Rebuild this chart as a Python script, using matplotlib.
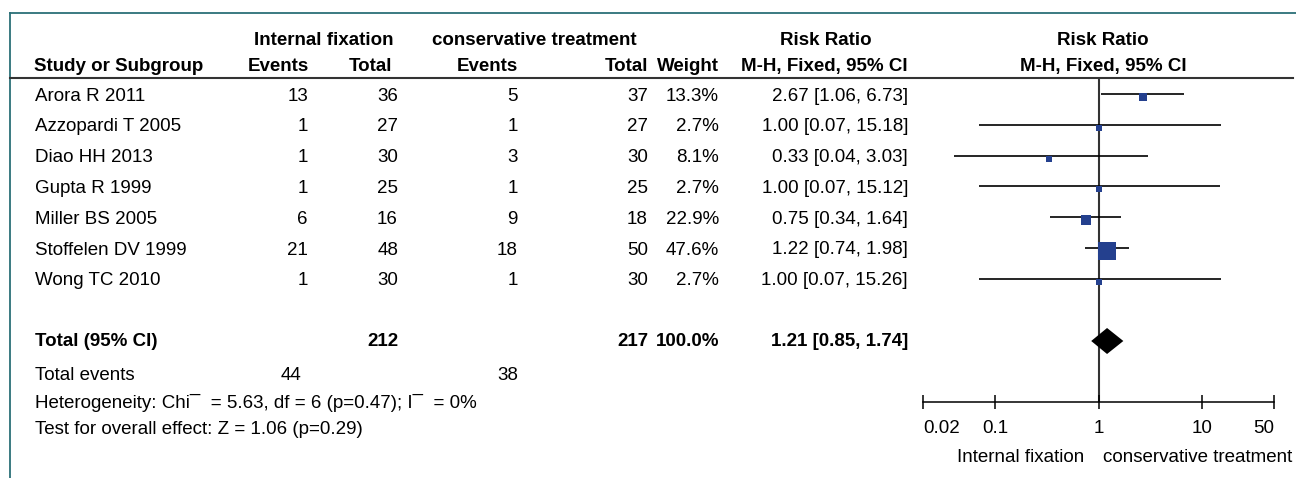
import numpy as np
import matplotlib.pyplot as plt
from matplotlib.ticker import NullLocator

plt.rcParams['font.family'] = ['Liberation Sans', 'DejaVu Sans']
plt.rcParams['font.size'] = 13.5

# data ---------------------------------------------------------
studies = ['Arora R 2011', 'Azzopardi T 2005', 'Diao HH 2013', 'Gupta R 1999',
           'Miller BS 2005', 'Stoffelen DV 1999', 'Wong TC 2010']
events_if = [13, 1, 1, 1, 6, 21, 1]
total_if = [36, 27, 30, 25, 16, 48, 30]
events_ct = [5, 1, 3, 1, 9, 18, 1]
total_ct = [37, 27, 30, 25, 18, 50, 30]
weights = [13.3, 2.7, 8.1, 2.7, 22.9, 47.6, 2.7]
rr = [2.67, 1.00, 0.33, 1.00, 0.75, 1.22, 1.00]
ci_low = [1.06, 0.07, 0.04, 0.07, 0.34, 0.74, 0.07]
ci_high = [6.73, 15.18, 3.03, 15.12, 1.64, 1.98, 15.26]

pooled_rr = 1.21
pooled_low = 0.85
pooled_high = 1.74
sum_total_if = 212
sum_total_ct = 217
sum_events_if = 44
sum_events_ct = 38
het_text = 'Heterogeneity: Chi\u00af  = 5.63, df = 6 (p=0.47); I\u00af  = 0%'
effect_text = 'Test for overall effect: Z = 1.06 (p=0.29)'

tick_vals = [0.02, 0.1, 1, 10, 50]
tick_labels = ['0.02', '0.1', '1', '10', '50']

# layout (pixels) ----------------------------------------------
W, H = 1296, 478
teal = '#2b6f77'
blue = '#24408e'
rows = [96 + 30.8 * i for i in range(len(studies))]
y_total, y_events, y_het, y_test = 342, 376, 403, 430
y_diamond = 341
y_head1, y_head2, y_line = 40, 66, 78
y_axis = 402
x_lo, x_hi = 923, 1274

fig = plt.figure(figsize=(W / 100, H / 100), dpi=100)
bg = fig.add_axes([0, 0, 1, 1])
bg.set_xlim(0, W)
bg.set_ylim(H, 0)
bg.axis('off')

# frame
bg.plot([10, 10], [12.5, H], color=teal, lw=1.3)
bg.plot([10, W], [12.5, 12.5], color=teal, lw=1.3)
bg.plot([10, 1293], [y_line, y_line], color='#333333', lw=1.5)

# header
bold = dict(fontweight='bold', va='center')
bg.text(324, y_head1, 'Internal fixation', ha='center', **bold)
bg.text(534, y_head1, 'conservative treatment', ha='center', **bold)
bg.text(826, y_head1, 'Risk Ratio', ha='center', **bold)
bg.text(1103, y_head1, 'Risk Ratio', ha='center', **bold)
bg.text(34, y_head2, 'Study or Subgroup', ha='left', **bold)
bg.text(309, y_head2, 'Events', ha='right', **bold)
bg.text(392, y_head2, 'Total', ha='right', **bold)
bg.text(518, y_head2, 'Events', ha='right', **bold)
bg.text(648, y_head2, 'Total', ha='right', **bold)
bg.text(719, y_head2, 'Weight', ha='right', **bold)
bg.text(824, y_head2, 'M-H, Fixed, 95% CI', ha='center', **bold)
bg.text(1103, y_head2, 'M-H, Fixed, 95% CI', ha='center', **bold)

# study rows
for i, y in enumerate(rows):
    bg.text(35, y, studies[i], ha='left', va='center')
    bg.text(308, y, str(events_if[i]), ha='right', va='center')
    bg.text(398, y, str(total_if[i]), ha='right', va='center')
    bg.text(518, y, str(events_ct[i]), ha='right', va='center')
    bg.text(648, y, str(total_ct[i]), ha='right', va='center')
    bg.text(719, y, f'{weights[i]:.1f}%', ha='right', va='center')
    bg.text(908, y, f'{rr[i]:.2f} [{ci_low[i]:.2f}, {ci_high[i]:.2f}]',
            ha='right', va='center')

# totals
bg.text(35, y_total, 'Total (95% CI)', ha='left', **bold)
bg.text(398, y_total, str(sum_total_if), ha='right', **bold)
bg.text(648, y_total, str(sum_total_ct), ha='right', **bold)
bg.text(719, y_total, f'{sum(weights):.1f}%', ha='right', **bold)
bg.text(908, y_total, f'{pooled_rr:.2f} [{pooled_low:.2f}, {pooled_high:.2f}]',
        ha='right', **bold)
bg.text(35, y_events, 'Total events', ha='left', va='center')
bg.text(301, y_events, str(sum_events_if), ha='right', va='center')
bg.text(518, y_events, str(sum_events_ct), ha='right', va='center')
bg.text(35, y_het, het_text, ha='left', va='center')
bg.text(35, y_test, effect_text, ha='left', va='center')

# forest plot ---------------------------------------------------
fa = fig.add_axes([x_lo / W, 0, (x_hi - x_lo) / W, 1])
fa.patch.set_alpha(0)
fa.set_xscale('log')
fa.set_xlim(tick_vals[0], tick_vals[-1])
fa.set_ylim(H, 0)
for s in ['top', 'left', 'right']:
    fa.spines[s].set_visible(False)
fa.spines['bottom'].set_position(('data', y_axis))
fa.spines['bottom'].set_linewidth(1.1)
fa.set_yticks([])
fa.set_xticks(tick_vals)
fa.set_xticklabels(tick_labels)
fa.xaxis.set_minor_locator(NullLocator())
fa.tick_params(axis='x', direction='inout', length=9.4, width=1.1, pad=8,
               labelsize=13.5)
labs = fa.get_xticklabels()
labs[0].set_ha('left')
labs[-1].set_ha('right')

fa.vlines(1, y_line, y_axis, color='#333333', lw=1.5, zorder=1)
for i, y in enumerate(rows):
    fa.hlines(y - 2, ci_low[i], ci_high[i], color='black', lw=1.2, zorder=2)
    side = 4.3 + 0.267 * weights[i]
    fa.plot(rr[i], y + 1, marker='s', ms=side * 0.72, mew=0, color=blue,
            ls='none', zorder=3)

fa.fill([pooled_low, pooled_rr, pooled_high, pooled_rr],
        [y_diamond, y_diamond - 13, y_diamond, y_diamond + 13],
        color='black', lw=0, zorder=3)

bg.text(1021, 457, 'Internal fixation', ha='center', va='center')
bg.text(1198, 457, 'conservative treatment', ha='center', va='center')

fig.savefig('out.png', dpi=100)
